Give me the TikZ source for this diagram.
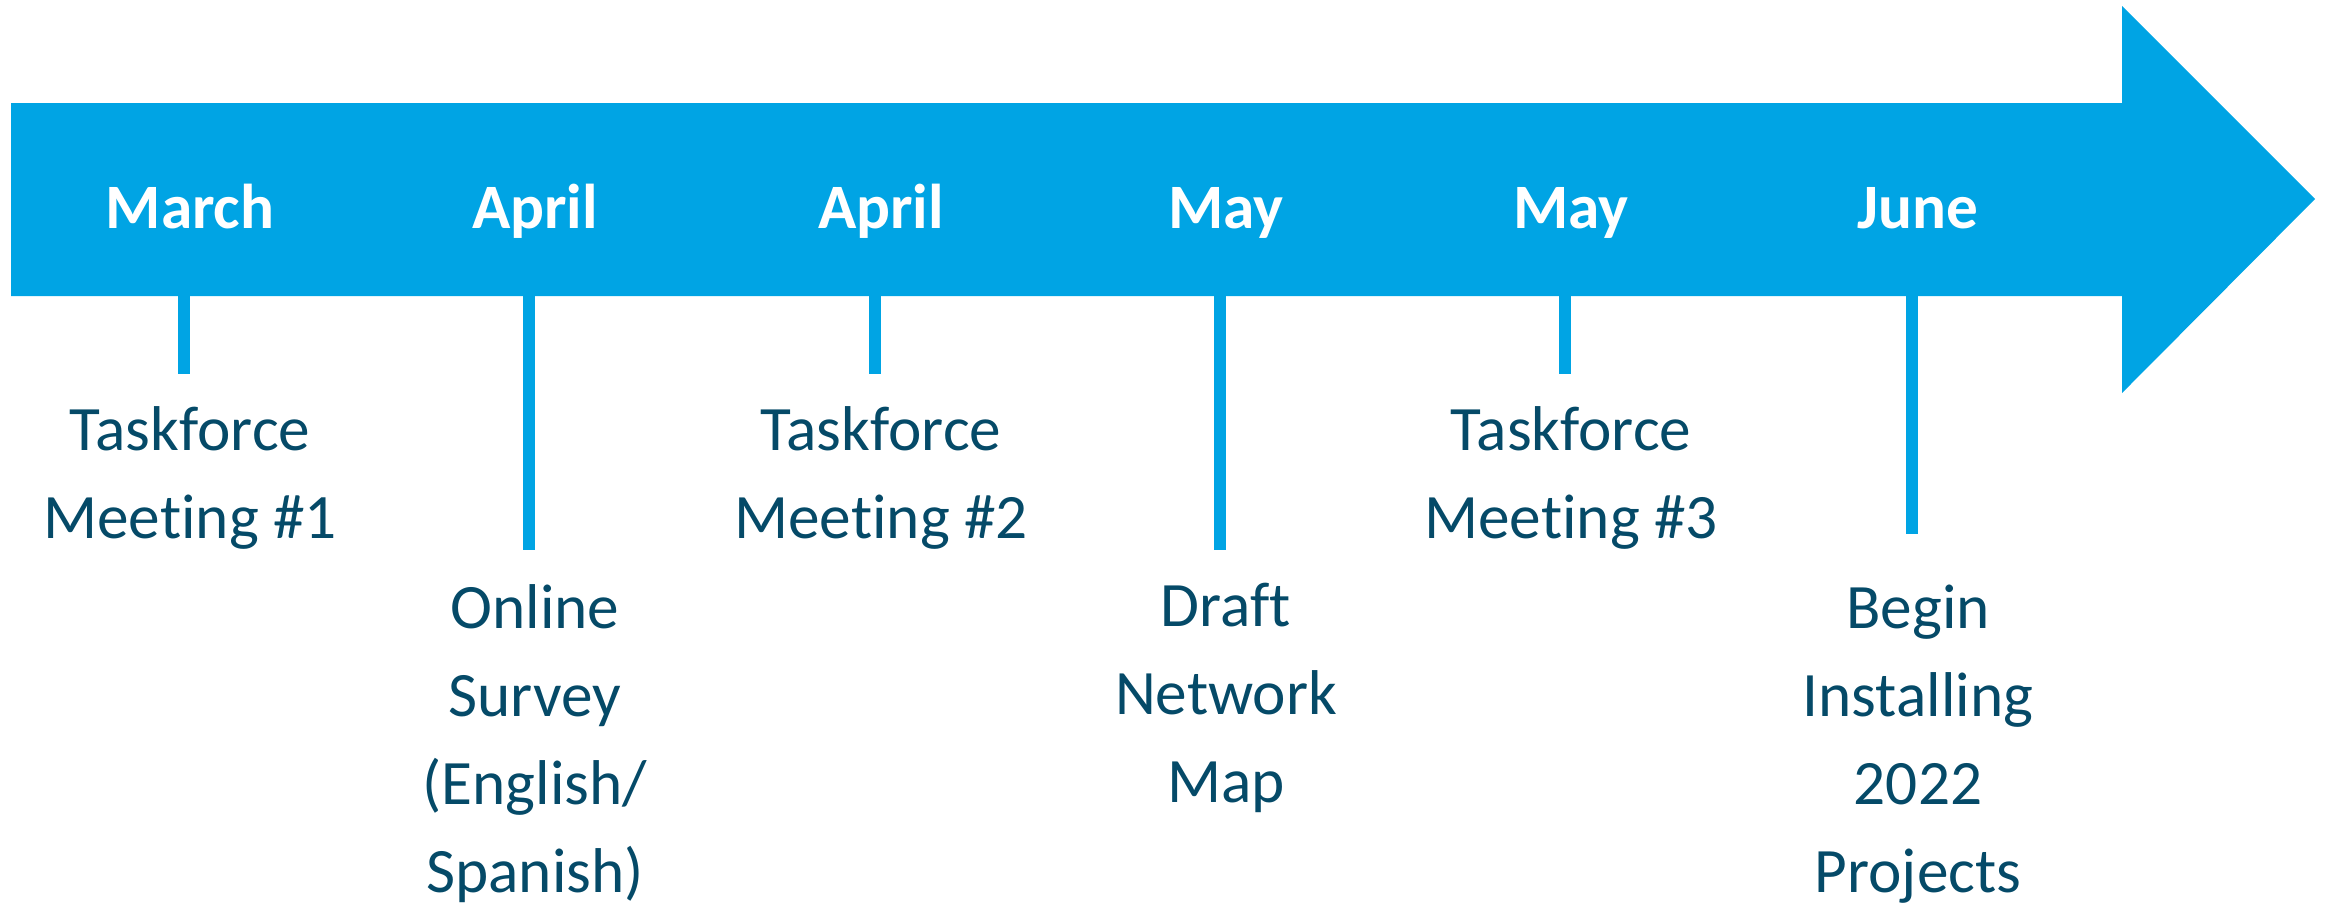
\documentclass[tikz,border=0pt]{standalone}
\usepackage{fontspec}
\setmainfont{Carlito}[Ligatures=NoCommon]
\begin{document}
\begin{tikzpicture}
            \definecolor{bar_color}{RGB}{0,164,228}
            \definecolor{text_color}{RGB}{5,74,104}
            \tikzstyle{every node} = [font=\fontsize{18}{25}\selectfont, align=center, anchor=base, inner sep=0pt]
            \tikzstyle{month} = [text=white, font=\fontsize{18}{25}\selectfont\bfseries]
            \tikzstyle{event} = [text=text_color]
            \tikzstyle{tick} = [bar_color, line width=0.12cm]
            \useasboundingbox (0,0) rectangle (23.3,-9.03);
            \fill[bar_color] (0.11,-1.03) -- (21.22,-1.03) -- (21.22,-0.06) -- (23.15,-1.99) -- (21.22,-3.93) -- (21.22,-2.96) -- (0.11,-2.96) -- cycle;
            \coordinate (bar) at (0,-2.96);
            \node[month] (m0) at (1.90,-2.28) {March};
            \node[month] (m1) at (5.35,-2.28) {April};
            \node[month] (m2) at (8.81,-2.28) {April};
            \node[month] (m3) at (12.26,-2.28) {May};
            \node[month] (m4) at (15.71,-2.28) {May};
            \node[month] (m5) at (19.18,-2.28) {June};
            \coordinate (t0) at (1.84,-3.74);
            \coordinate (t1) at (5.29,-5.50);
            \coordinate (t2) at (8.75,-3.74);
            \coordinate (t3) at (12.20,-5.50);
            \coordinate (t4) at (15.65,-3.74);
            \coordinate (t5) at (19.12,-5.34);
            \draw[tick] (t0 |- bar) -- (t0);
            \draw[tick] (t1 |- bar) -- (t1);
            \draw[tick] (t2 |- bar) -- (t2);
            \draw[tick] (t3 |- bar) -- (t3);
            \draw[tick] (t4 |- bar) -- (t4);
            \draw[tick] (t5 |- bar) -- (t5);
            \node[event] (e0) at (1.90,-5.38) {Taskforce\\Meeting \#1};
            \node[event] (e1) at (5.35,-8.92) {Online\\Survey\\(English/\\Spanish)};
            \node[event] (e2) at (8.81,-5.38) {Taskforce\\Meeting \#2};
            \node[event] (e3) at (12.26,-8.02) {Draft\\Network\\Map};
            \node[event] (e4) at (15.71,-5.38) {Taskforce\\Meeting \#3};
            \node[event] (e5) at (19.18,-8.92) {Begin\\Installing\\2022\\Projects};
\end{tikzpicture}
\end{document}
